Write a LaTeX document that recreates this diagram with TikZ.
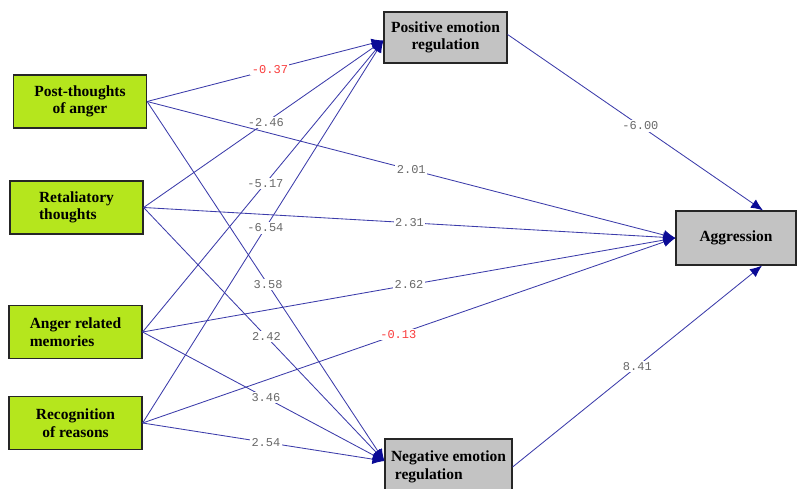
\documentclass[tikz,border=0pt]{standalone}
\usepackage{fontspec}
\setmainfont{Liberation Serif}
\setmonofont{Liberation Mono}
\usetikzlibrary{arrows.meta}
\definecolor{boxgreen}{RGB}{181,230,29}
\definecolor{boxgray}{RGB}{195,195,195}
\definecolor{lineblue}{RGB}{60,60,170}
\definecolor{tipblue}{RGB}{10,10,150}
\definecolor{coefgray}{RGB}{105,105,105}
\definecolor{coefred}{RGB}{250,60,60}

\begin{document}
\begin{tikzpicture}[
  x=1pt, y=-1pt,
  font=\bfseries\fontsize{15.5}{17.5}\selectfont,
  cause/.style={draw=black!85, line width=1.2pt, fill=boxgreen, minimum width=133pt, minimum height=53pt},
  latent/.style={draw=black!85, line width=1.2pt, fill=boxgray, minimum height=52pt},
  link/.style={draw=lineblue, line width=0.85pt, -{Latex[length=12pt,width=10pt,color=tipblue]}},
  coef/.style={fill=white, inner sep=1.5pt, font=\ttfamily\mdseries\fontsize{12}{13}\selectfont, text=coefgray},
  coefneg/.style={coef, text=coefred}
]
\path[use as bounding box, clip] (0,0) rectangle (797,489);

\node[cause, align=center] (post) at (80,101.5) {Post-thoughts\\of anger};
\node[cause, align=left] (retal) at (76.5,207.5) {Retaliatory\\thoughts};
\node[cause, align=left] (memo) at (75.5,332) {Anger related\\memories};
\node[cause, align=center] (recog) at (75.5,423) {Recognition\\of reasons};

\node[latent, minimum width=123pt, minimum height=51pt, align=center] (posreg) at (445.5,37.5)
  {Positive emotion\\regulation};
\node[latent, minimum width=127pt, minimum height=56pt, align=left] (negreg) at (448.5,467)
  {Negative emotion\\\ regulation};
\node[latent, minimum width=120pt, minimum height=54pt] (aggr) at (736,238) {Aggression};

\draw[link] (post.east) -- node[coefneg, pos=0.52] {-0.37} ([yshift=-3pt]posreg.west);
\draw[link] (retal.east) -- node[coef, pos=0.51] {-2.46} ([yshift=-3pt]posreg.west);
\draw[link] (memo.east) -- node[coef, pos=0.51] {-5.17} ([yshift=-3pt]posreg.west);
\draw[link] (recog.east) -- node[coef, pos=0.51] {-6.54} ([yshift=-3pt]posreg.west);

\draw[link] (post.east) -- node[coef, pos=0.5] {2.01} (aggr.west);
\draw[link] (retal.east) -- node[coef, pos=0.5] {2.31} (aggr.west);
\draw[link] (memo.east) -- node[coef, pos=0.5] {2.62} (aggr.west);
\draw[link] (recog.east) -- node[coefneg, pos=0.48] {-0.13} (aggr.west);

\draw[link] (post.east) -- node[coef, pos=0.51] {3.58} ([yshift=6pt]negreg.west);
\draw[link] (retal.east) -- node[coef, pos=0.51] {2.42} ([yshift=6pt]negreg.west);
\draw[link] (memo.east) -- node[coef, pos=0.51] {3.46} ([yshift=6pt]negreg.west);
\draw[link] (recog.east) -- node[coef, pos=0.51] {2.54} ([yshift=6pt]negreg.west);

\draw[link] ([yshift=3pt]posreg.east) -- node[coef, pos=0.52] {-6.00} ([xshift=27pt]aggr.north);
\draw[link] (negreg.east) -- node[coef, pos=0.5] {8.41} ([xshift=26pt]aggr.south);

\end{tikzpicture}
\end{document}
